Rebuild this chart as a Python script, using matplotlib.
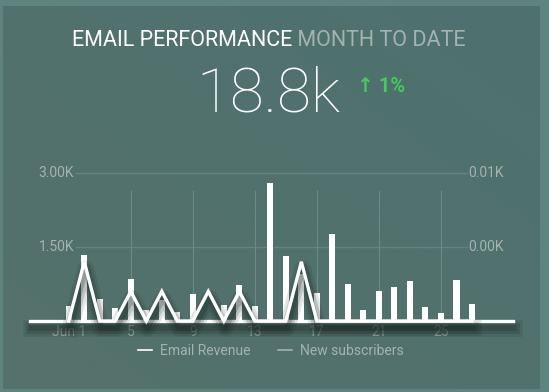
import numpy as np
import matplotlib
matplotlib.use("Agg")
import matplotlib.pyplot as plt
import matplotlib.patheffects as pe
from matplotlib.lines import Line2D
from matplotlib.transforms import blended_transform_factory

plt.rcParams["font.family"] = ["Roboto", "DejaVu Sans"]

# ---- data ----
days = list(range(1, 28))
revenue_k = [0.30, 1.34, 0.45, 0.26, 0.86, 0.23, 0.42, 0.19, 0.55, 0.03,
             0.32, 0.73, 0.30, 2.79, 1.32, 0.95, 0.57, 1.76, 0.74, 0.22,
             0.60, 0.68, 0.82, 0.29, 0.16, 0.83, 0.34]
subscribers = [0, 4, 0, 0, 2, 0, 2, 0, 0, 2, 0, 2, 0, 0, 0, 4, 0, 0, 0, 0,
               0, 0, 0, 0, 0, 0, 0]

tick_days = [1, 5, 9, 13, 17, 21, 25]
tick_labels = ["Jun 1", "5", "9", "13", "17", "21", "25"]
left_ticks = [1.5, 3.0]
left_labels = ["1.50K", "3.00K"]
right_ticks = [5, 10]
right_labels = ["0.00K", "0.01K"]

title_main = "EMAIL PERFORMANCE"
title_sub = "MONTH TO DATE"
kpi_value = "18.8k"
kpi_change = "\u2191 1%"

# ---- colours ----
outer_bg = "#5f837f"
grey_txt = "#a3b3ae"
green = "#45c95c"

W, H = 549, 392
fig = plt.figure(figsize=(W / 100, H / 100), dpi=100)
fig.patch.set_facecolor(outer_bg)

# card with a faint diagonal gradient
bg = fig.add_axes([0, 0, 1, 1], zorder=-5)
bg.set_xlim(0, W)
bg.set_ylim(H, 0)
bg.axis("off")
gx, gy = np.meshgrid(np.linspace(0, 1, 64), np.linspace(0, 1, 64))
g = (gx + (1 - gy)) / 2
c0 = np.array([0x55, 0x71, 0x6b]) / 255
c1 = np.array([0x4e, 0x71, 0x70]) / 255
img = c0[None, None, :] * (1 - g[..., None]) + c1[None, None, :] * g[..., None]
bg.imshow(img, extent=(3, 540, 389, 6), aspect="auto", interpolation="bilinear")

# main chart axes: x from 30px to 513px, y baseline at 321px
ax = fig.add_axes([30 / W, (H - 323) / H, 483 / W, (323 - 165) / H])
ax.set_facecolor("none")
ylim = (-0.04, 3.16)
ax.set_ylim(*ylim)
ax.set_xlim(-1.5, 29.65)
for s in ax.spines.values():
    s.set_visible(False)
ax.set_yticks([])
ax.set_xticks(tick_days)
ax.set_xticklabels(tick_labels, fontsize=10, color=grey_txt)
ax.tick_params(axis="x", length=0, pad=1.5)

# grid lines
for v in left_ticks:
    ax.axhline(v, xmin=0.095, xmax=0.905, color="#66847e", lw=1, zorder=0)
ax.vlines(tick_days[1:], 0, 2.65, color="#6c8a85", lw=0.8, zorder=0)

ytr = blended_transform_factory(ax.transAxes, ax.transData)
for v, lab in zip(left_ticks, left_labels):
    ax.text(0.091, v, lab, transform=ytr, ha="right", va="center",
            fontsize=10, color=grey_txt)

ax.bar(days, revenue_k, width=0.4, color="white", zorder=2)

# subscribers on a twin axis
tx = ax.twinx()
tx.set_ylim(ylim[0] * 10 / 3, ylim[1] * 10 / 3)
tx.set_yticks([])
for s in tx.spines.values():
    s.set_visible(False)
ytr2 = blended_transform_factory(tx.transAxes, tx.transData)
for v, lab in zip(right_ticks, right_labels):
    tx.text(0.981, v, lab, transform=ytr2, ha="right", va="center",
            fontsize=10, color=grey_txt)

# soft drop shadow under the line (stacked blurred strokes)
shadow = [
    pe.SimpleLineShadow(offset=(1, -5), shadow_color="#16231f", alpha=0.12,
                        linewidth=12, joinstyle="round"),
    pe.SimpleLineShadow(offset=(1, -5), shadow_color="#16231f", alpha=0.18,
                        linewidth=8, joinstyle="round"),
    pe.SimpleLineShadow(offset=(1, -5), shadow_color="#16231f", alpha=0.24,
                        linewidth=4, joinstyle="round"),
    pe.Normal(),
]
tx.axhline(0, color="white", lw=2.4, path_effects=shadow, clip_on=False, zorder=3)
tx.plot(days, subscribers, color="white", lw=2.4, path_effects=shadow,
        clip_on=False, zorder=4, solid_joinstyle="miter")

# legend
handles = [Line2D([], [], color="white", lw=1.2),
           Line2D([], [], color=grey_txt, lw=1.2)]
fig.legend(handles, ["Email Revenue", "New subscribers"], loc="center",
           bbox_to_anchor=(271 / W, 1 - 351 / H), ncol=2, frameon=False,
           fontsize=10, labelcolor=grey_txt, handlelength=1.0,
           handletextpad=0.6, columnspacing=2.0)

# header texts
t1 = fig.text(72 / W, 1 - 40 / H, title_main, color="white", fontsize=15.5,
              ha="left", va="center")
ax.annotate(" " + title_sub, xy=(1, 0.5), xycoords=t1, color=grey_txt,
            fontsize=15.5, ha="left", va="center", annotation_clip=False)

fig.text(196 / W, 1 - 111 / H, kpi_value, color="white", fontsize=44.5,
         fontweight="light", ha="left", va="baseline")
fig.text(357 / W, 1 - 86 / H, kpi_change, color=green, fontsize=14.5,
         fontweight="bold", ha="left", va="center")

fig.savefig("out.png", dpi=100, facecolor=fig.get_facecolor())
